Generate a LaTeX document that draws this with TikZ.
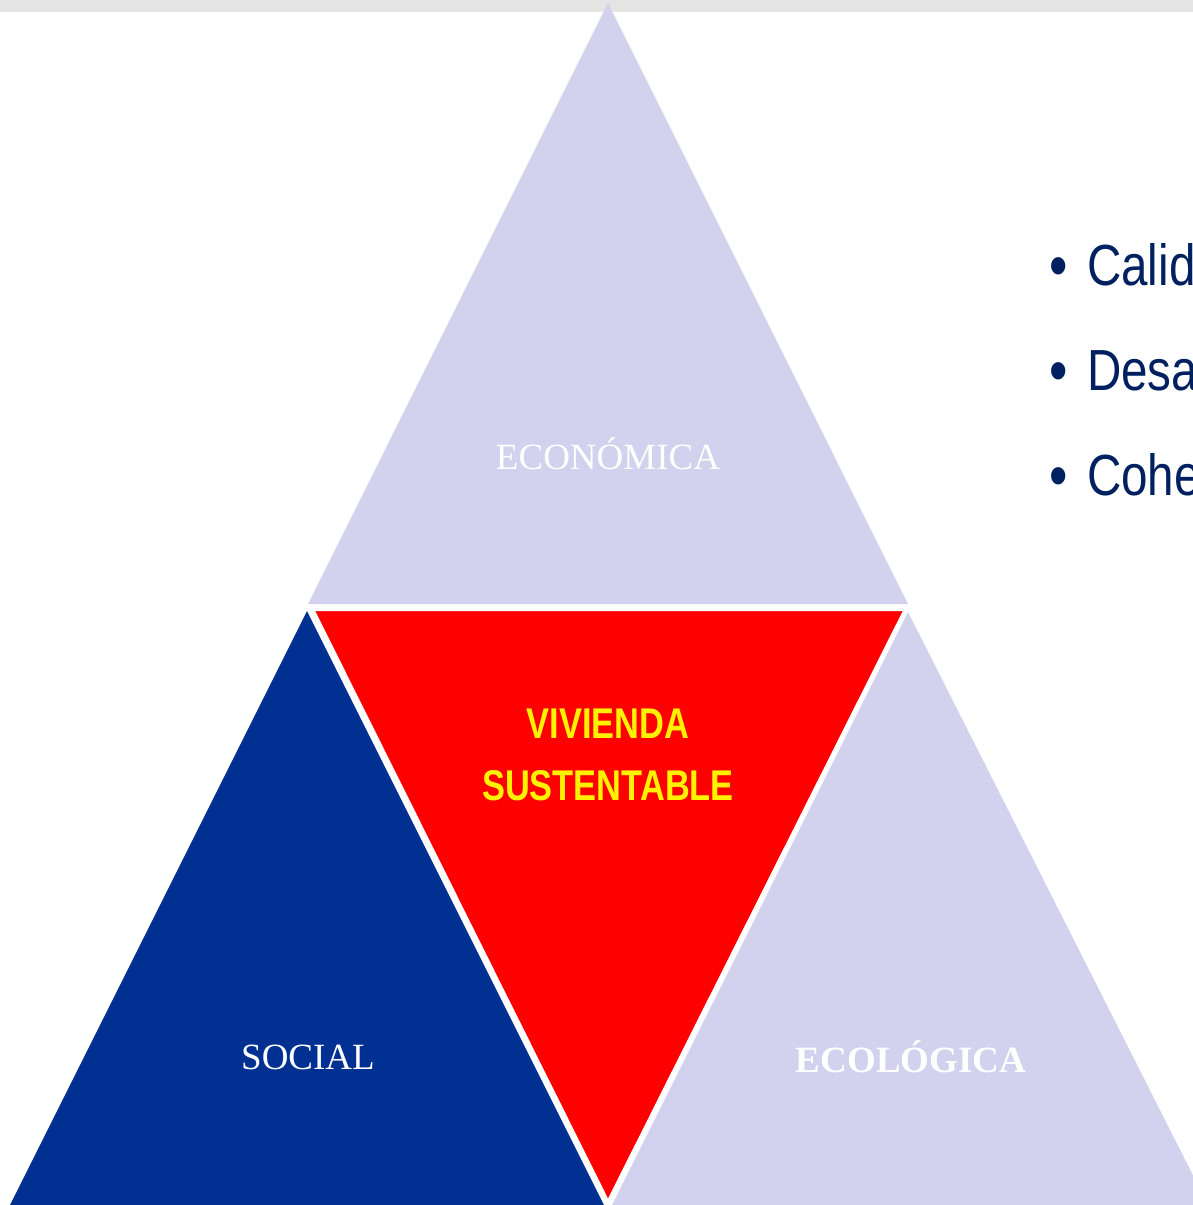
\documentclass[tikz,border=0pt]{standalone}
\usepackage{fontspec}
\setmainfont{Liberation Serif}
\newfontfamily\narrowfont[FakeStretch=0.82]{Liberation Sans}
\newfontfamily\titlefont[FakeStretch=0.8]{Liberation Sans}
\definecolor{lavender}{RGB}{210,210,238}
\definecolor{socialblue}{RGB}{0,48,146}
\definecolor{navytext}{RGB}{0,32,96}
\definecolor{topbar}{RGB}{228,228,228}

\begin{document}
\begin{tikzpicture}[x=1pt,y=-1pt]
      \tikzstyle{side label} = [text=white, font=\fontsize{37}{40}\selectfont, inner sep=0pt]
      \tikzstyle{core label} = [text=yellow, font=\titlefont\bfseries\fontsize{43}{62}\selectfont, align=center, inner sep=0pt]
      \tikzstyle{item} = [text=navytext, font=\narrowfont\fontsize{58}{60}\selectfont, anchor=base west, inner sep=0pt]
      \clip (0,0) rectangle (1193,1205);
      \fill[topbar] (0,0) rectangle (1193,12);

      %triangles
      \fill[lavender]   (608,3) -- (908,604) -- (308,604) -- cycle;
      \fill[socialblue] (307,611) -- (604,1205) -- (10,1205) -- cycle;
      \fill[lavender]   (908,612) -- (1208,1205) -- (612,1205) -- cycle;
      \filldraw[fill=red, draw=white, line width=4pt, line join=miter] (312,609) -- (906,609) -- (608,1203) -- cycle;

      %labels
      \node[side label] (economica) at (608,454) {ECONÓMICA};
      \node[side label] (social)    at (308,1057) {SOCIAL};
      \node[side label, font=\bfseries\fontsize{37}{40}\selectfont] (ecologica) at (911,1057) {ECOLÓGICA};
      \node[core label] (vivienda)  at (608,755) {VIVIENDA\\SUSTENTABLE};

      %list
      \node[item, font=\narrowfont\fontsize{64}{60}\selectfont] (calidad)    at (1049,287) {•};
      \node[item, font=\narrowfont\fontsize{64}{60}\selectfont] (desarrollo) at (1049,392) {•};
      \node[item, font=\narrowfont\fontsize{64}{60}\selectfont] (coherencia) at (1049,497) {•};
      \node[item] (calidadtxt)    at (1087,285) {Calid};
      \node[item] (desarrollotxt) at (1087,390) {Desa};
      \node[item] (coherenciatxt) at (1087,495) {Cohe};
\end{tikzpicture}
\end{document}
